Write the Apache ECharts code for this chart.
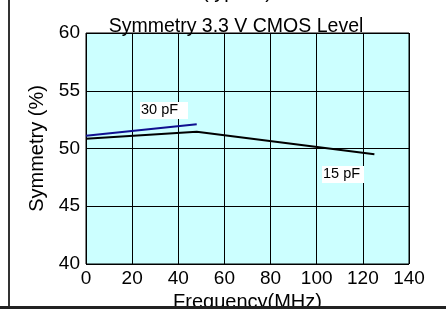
<!DOCTYPE html>
<html>
<head>
<meta charset="utf-8">
<script src="https://cdn.jsdelivr.net/npm/echarts@6/dist/echarts.min.js"></script>
<style>
  html, body { margin: 0; padding: 0; background: #fff; }
  #chart { width: 446px; height: 309px; }
</style>
</head>
<body>
<div id="chart"></div>
<script>
// Symmetry vs frequency
var freq30 = [0, 48];
var sym30 = [51.1, 52.1];
var freq15 = [0, 48, 125];
var sym15 = [50.85, 51.45, 49.5];
var xTicks = [0, 20, 40, 60, 80, 100, 120, 140];
var yTicks = [40, 45, 50, 55, 60];

function pairs(xs, ys) {
  return xs.map(function (x, i) { return [x, ys[i]]; });
}

var font = 'Liberation Sans, Arial, sans-serif';
var myChart = echarts.init(document.getElementById('chart'));

var option = {
  animation: false,
  title: {
    text: 'Symmetry 3.3 V CMOS Level',
    left: 231,
    top: 12,
    textAlign: 'center',
    textStyle: { fontFamily: font, fontSize: 19.5, fontWeight: 'normal', color: '#000' }
  },
  grid: {
    left: 86, right: 37, top: 33, bottom: 45,
    outerBoundsMode: 'none',
    containLabel: false,
    show: true,
    backgroundColor: '#ccffff',
    borderColor: '#000',
    borderWidth: 1
  },
  xAxis: {
    type: 'value',
    min: xTicks[0],
    max: xTicks[xTicks.length - 1],
    interval: 20,
    name: 'Frequency(MHz)',
    nameLocation: 'middle',
    nameGap: 27,
    nameTextStyle: { fontFamily: font, fontSize: 20, color: '#000' },
    axisLine: { show: false },
    axisTick: { show: false },
    axisLabel: { fontFamily: font, fontSize: 19, color: '#000', margin: 5 },
    splitLine: { show: true, lineStyle: { color: '#000', width: 1 } }
  },
  yAxis: {
    type: 'value',
    min: yTicks[0],
    max: yTicks[yTicks.length - 1],
    interval: 5,
    name: 'Symmetry (%)',
    nameLocation: 'middle',
    nameGap: 24,
    nameTextStyle: { fontFamily: font, fontSize: 20, color: '#000' },
    axisLine: { show: false },
    axisTick: { show: false },
    axisLabel: { fontFamily: font, fontSize: 19, color: '#000', margin: 6 },
    splitLine: { show: true, lineStyle: { color: '#000', width: 1 } }
  },
  series: [
    {
      name: '15 pF',
      type: 'line',
      data: pairs(freq15, sym15),
      symbol: 'none',
      lineStyle: { color: '#000', width: 2 }
    },
    {
      name: '30 pF',
      type: 'line',
      data: pairs(freq30, sym30),
      symbol: 'none',
      lineStyle: { color: '#101090', width: 2 }
    }
  ],
  graphic: [
    // outer frame (left and bottom edges only visible)
    { type: 'rect', shape: { x: 8, y: 0, width: 2, height: 309 }, style: { fill: '#333' }, z: 100 },
    { type: 'rect', shape: { x: 0, y: 306, width: 446, height: 3 }, style: { fill: '#222' }, z: 100 },
    // cut-off caption at the very top
    { type: 'text', x: 237, y: 2, style: { text: '(typical)', font: '20px ' + font, fill: '#000', align: 'center', verticalAlign: 'bottom' } },
    // series labels
    { type: 'rect', shape: { x: 140, y: 102, width: 48, height: 17 }, style: { fill: '#fff' }, z: 50 },
    { type: 'text', x: 141, y: 102, style: { text: '30 pF', font: '14.5px ' + font, fill: '#000' }, z: 51 },
    { type: 'rect', shape: { x: 322, y: 166, width: 42, height: 17 }, style: { fill: '#fff' }, z: 50 },
    { type: 'text', x: 323, y: 166, style: { text: '15 pF', font: '14.5px ' + font, fill: '#000' }, z: 51 }
  ]
};

myChart.setOption(option);
</script>
</body>
</html>
